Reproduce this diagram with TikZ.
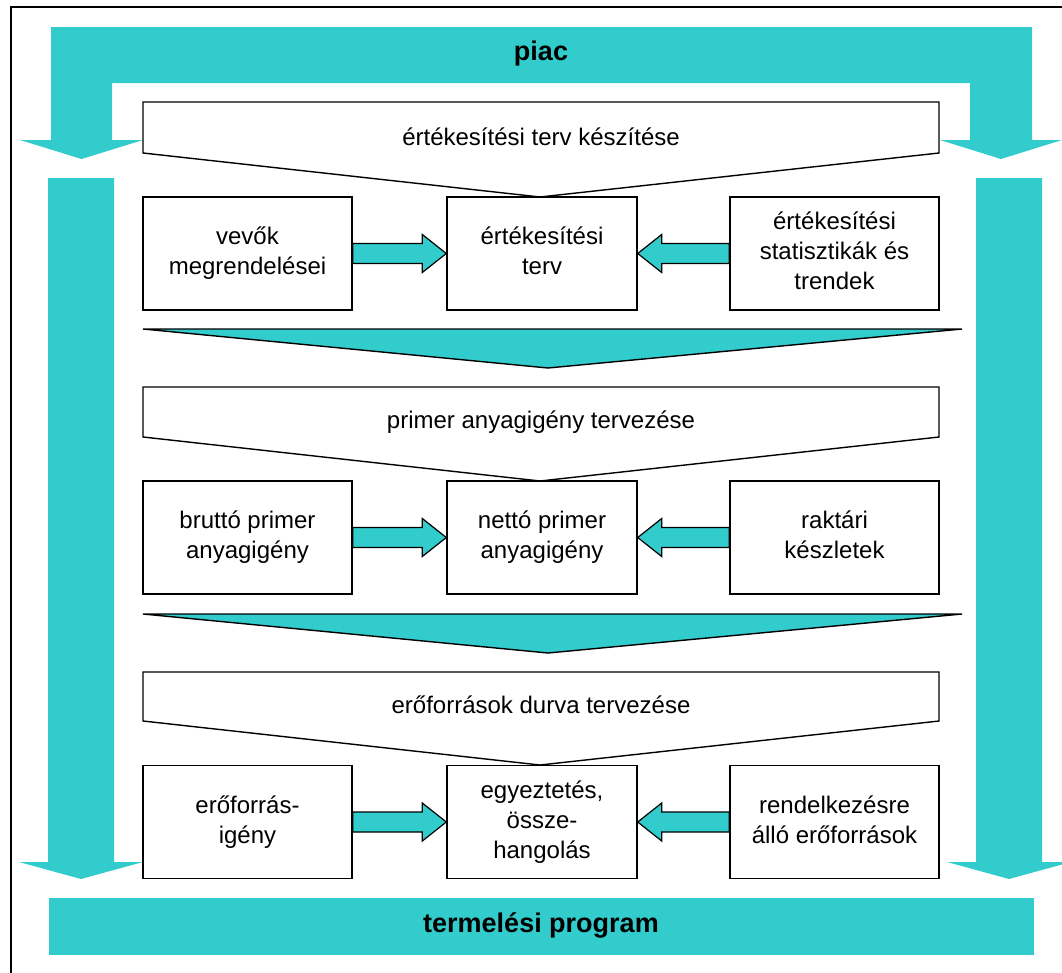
\documentclass[tikz,border=0pt]{standalone}
\usepackage{fontspec}
\setmainfont{Liberation Sans}
\usetikzlibrary{calc}
\definecolor{tealc}{RGB}{51,204,204}
\newcommand\boxtext[1]{\raisebox{5pt}{\begin{tabular}{@{}c@{}}#1\end{tabular}}}
\tikzset{
  box/.style={draw=black, line width=1.4pt, fill=white, minimum height=113pt, inner sep=0pt, align=center, font=\fontsize{24}{30}\selectfont},
  sidebox/.style={box, minimum width=209pt},
  midbox/.style={box, minimum width=190pt},
  outline/.style={draw=black, line width=1.4pt, fill=white},
  chevron/.style={draw=black, line width=1.4pt, fill=tealc},
  barrow/.style={draw=black, line width=1.2pt, fill=tealc},
  bigarrow/.style={fill=tealc, draw=none},
  lbl/.style={font=\fontsize{24}{30}\selectfont, inner sep=0pt},
  blbl/.style={font=\fontsize{27}{32}\selectfont\bfseries, inner sep=0pt}
}
\newcommand\rarrow[2]{\filldraw[barrow] ($(#1.east)+(0,10)$) -- ($(#2.west)+(-24,10)$) -- ($(#2.west)+(-24,19)$) -- (#2.west) -- ($(#2.west)+(-24,-19)$) -- ($(#2.west)+(-24,-10)$) -- ($(#1.east)+(0,-10)$) -- cycle;}
\newcommand\larrow[2]{\filldraw[barrow] ($(#1.west)+(0,10)$) -- ($(#2.east)+(24,10)$) -- ($(#2.east)+(24,19)$) -- (#2.east) -- ($(#2.east)+(24,-19)$) -- ($(#2.east)+(24,-10)$) -- ($(#1.west)+(0,-10)$) -- cycle;}
\begin{document}
\begin{tikzpicture}[x=1pt, y=-1pt]
\useasboundingbox (0,0) rectangle (1062,972);
% frame
\draw[line width=1.6pt] (11,990) -- (11,7) -- (1080,7);
% top market arrow
\path[bigarrow] (51,27) -- (1032,27) -- (1032,140) -- (1062,140) -- (1001,159) -- (940,140) -- (970,140) -- (970,83) -- (112,83) -- (112,140) -- (143,140) -- (81.5,159) -- (20,140) -- (51,140) -- cycle;
\node[blbl] (piac) at (541,54) {piac};
% side arrows
\path[bigarrow] (48,178) -- (114,178) -- (114,862) -- (143,862) -- (81,879) -- (19,862) -- (48,862) -- cycle;
\path[bigarrow] (976,178) -- (1042,178) -- (1042,862) -- (1071,862) -- (1009,879) -- (947,862) -- (976,862) -- cycle;
% bottom bar
\path[bigarrow] (49,898) rectangle (1034,955);
\node[blbl] (prog) at (541,925) {termelési program};
% section 1
\path[outline] (143,102) -- (939,102) -- (939,153) -- (540,197) -- (143,153) -- cycle;
\node[lbl] (t1) at (541,137) {értékesítési terv készítése};
\node[sidebox] (a1) at (247.5,253.5) {\boxtext{vevők\\megrendelései}};
\node[midbox] (b1) at (542,253.5) {\boxtext{értékesítési\\terv}};
\node[sidebox] (c1) at (834.5,253.5) {\boxtext{értékesítési\\statisztikák és\\trendek}};
\rarrow{a1}{b1}
\larrow{c1}{b1}
\path[chevron] (143,329) -- (962,329) -- (548,368) -- cycle;
% section 2
\path[outline] (143,387) -- (939,387) -- (939,437) -- (540,481) -- (143,437) -- cycle;
\node[lbl] (t2) at (541,422) {primer anyagigény tervezése};
\node[sidebox] (a2) at (247.5,537.5) {\boxtext{bruttó primer\\anyagigény}};
\node[midbox] (b2) at (542,537.5) {\boxtext{nettó primer\\anyagigény}};
\node[sidebox] (c2) at (834.5,537.5) {\boxtext{raktári\\készletek}};
\rarrow{a2}{b2}
\larrow{c2}{b2}
\path[chevron] (143,614) -- (962,614) -- (548,653) -- cycle;
% section 3
\path[outline] (143,672) -- (939,672) -- (939,721) -- (540,765) -- (143,721) -- cycle;
\node[lbl] (t3) at (541,705) {erőforrások durva tervezése};
\node[sidebox] (a3) at (247.5,822) {\boxtext{erőforrás-\\igény}};
\node[midbox] (b3) at (542,822) {\boxtext{egyeztetés,\\össze-\\hangolás}};
\node[sidebox] (c3) at (834.5,822) {\boxtext{rendelkezésre\\álló erőforrások}};
\rarrow{a3}{b3}
\larrow{c3}{b3}
\end{tikzpicture}
\end{document}
